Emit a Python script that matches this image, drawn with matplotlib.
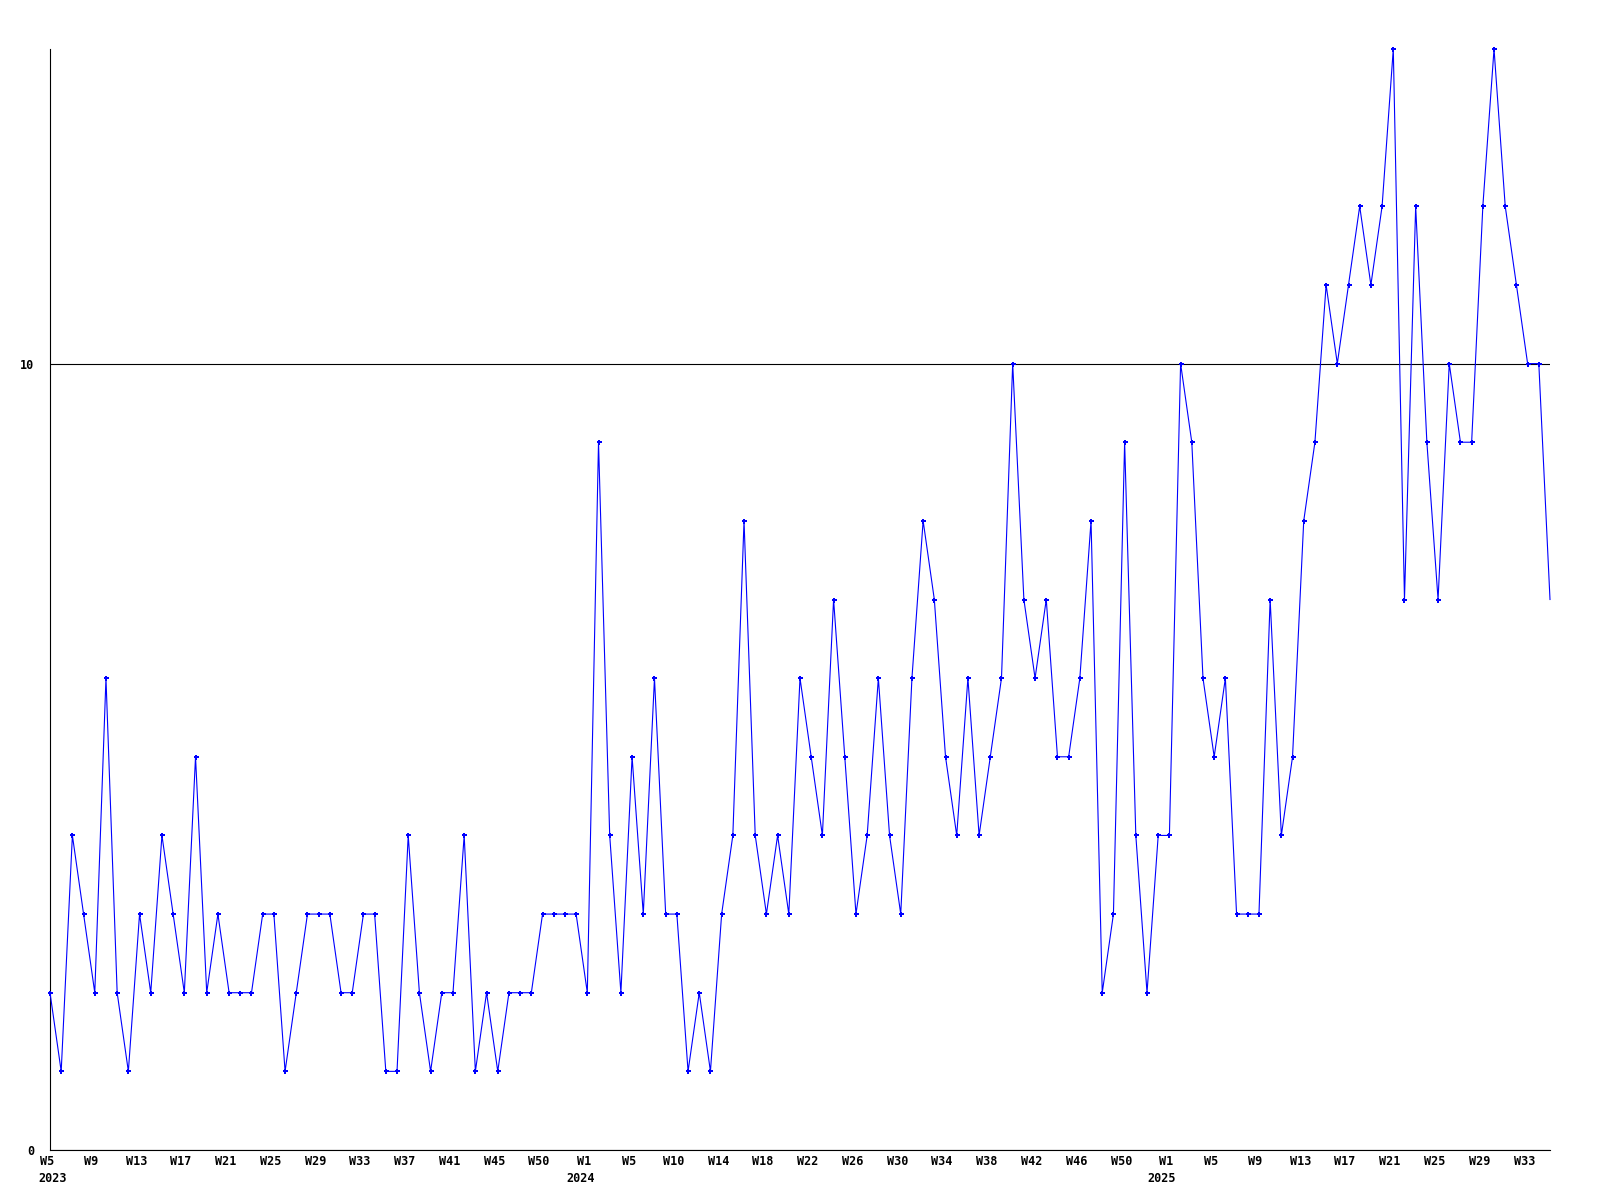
import matplotlib
matplotlib.use("Agg")
import matplotlib.pyplot as plt
import numpy as np

# Weekly counts, 2023 W5 .. 2025 W34 (one value per week)
values_2023 = [2, 1, 4, 3, 2, 6, 2, 1, 3, 2, 4, 3, 2, 5, 2, 3, 2, 2, 2, 3,
               3, 1, 2, 3, 3, 3, 2, 2, 3, 3, 1, 1, 4, 2, 1, 2, 2, 4, 1, 2,
               1, 2, 2, 2, 3, 3, 3, 3]
values_2024 = [2, 9, 4, 2, 5, 3, 6, 3, 3, 1, 2, 1, 3, 4, 8, 4, 3, 4, 3, 6,
               5, 4, 7, 5, 3, 4, 6, 4, 3, 6, 8, 7, 5, 4, 6, 4, 5, 6, 10, 7,
               6, 7, 5, 5, 6, 8, 2, 3, 9, 4, 2, 4]
values_2025 = [4, 10, 9, 6, 5, 6, 3, 3, 3, 7, 4, 5, 8, 9, 11, 10, 11, 12, 11, 12,
               14, 7, 12, 9, 7, 10, 9, 9, 12, 14, 12, 11, 10, 10, 7]

week_tick_labels = ["W5", "W9", "W13", "W17", "W21", "W25", "W29", "W33", "W37",
                    "W41", "W45", "W50",
                    "W1", "W5", "W10", "W14", "W18", "W22", "W26", "W30", "W34",
                    "W38", "W42", "W46", "W50",
                    "W1", "W5", "W9", "W13", "W17", "W21", "W25", "W29", "W33"]
tick_step = 4
year_labels = ["2023", "2024", "2025"]
y_ticks = [0, 10]

values = values_2023 + values_2024 + values_2025
x = np.arange(len(values))
year_starts = [0, len(values_2023), len(values_2023) + len(values_2024)]

fig = plt.figure(figsize=(16, 12), dpi=100)
ax = fig.add_axes([50 / 1600, 50 / 1200, 1500 / 1600, 1101 / 1200])

font = dict(family="DejaVu Sans Mono", weight="bold", size=8.5)

ax.plot(x, values, color="#0000ff", lw=0.8, marker="P", markersize=3.6,
        markeredgewidth=0, zorder=3, clip_on=False,
        markevery=list(range(len(values) - 1)))

ax.set_xlim(0, len(values) - 1)
ax.set_ylim(0, 14)

for s in ["top", "right"]:
    ax.spines[s].set_visible(False)
for s in ["left", "bottom"]:
    ax.spines[s].set_color("black")
    ax.spines[s].set_linewidth(0.8)

ax.set_yticks(y_ticks)
ax.set_yticklabels([str(v) for v in y_ticks], **font)
ax.tick_params(axis="y", length=0, pad=11.5)
ax.grid(axis="y", color="black", lw=0.8, zorder=1)
ax.set_xticks([])

# week labels
for i, lab in enumerate(week_tick_labels):
    xi = i * tick_step
    ax.annotate(lab, xy=(xi - 0.3, 0), xycoords=("data", "axes fraction"),
                xytext=(0, -8.6), textcoords="offset points",
                ha="center", va="center", **font)

# year labels
year_offsets = [0.27, -0.64, -0.73]
for ys, lab, off in zip(year_starts, year_labels, year_offsets):
    ax.annotate(lab, xy=(ys + off, 0), xycoords=("data", "axes fraction"),
                xytext=(0, -20.2), textcoords="offset points",
                ha="center", va="center", **font)

fig.savefig("out.png", dpi=100, facecolor="white")
